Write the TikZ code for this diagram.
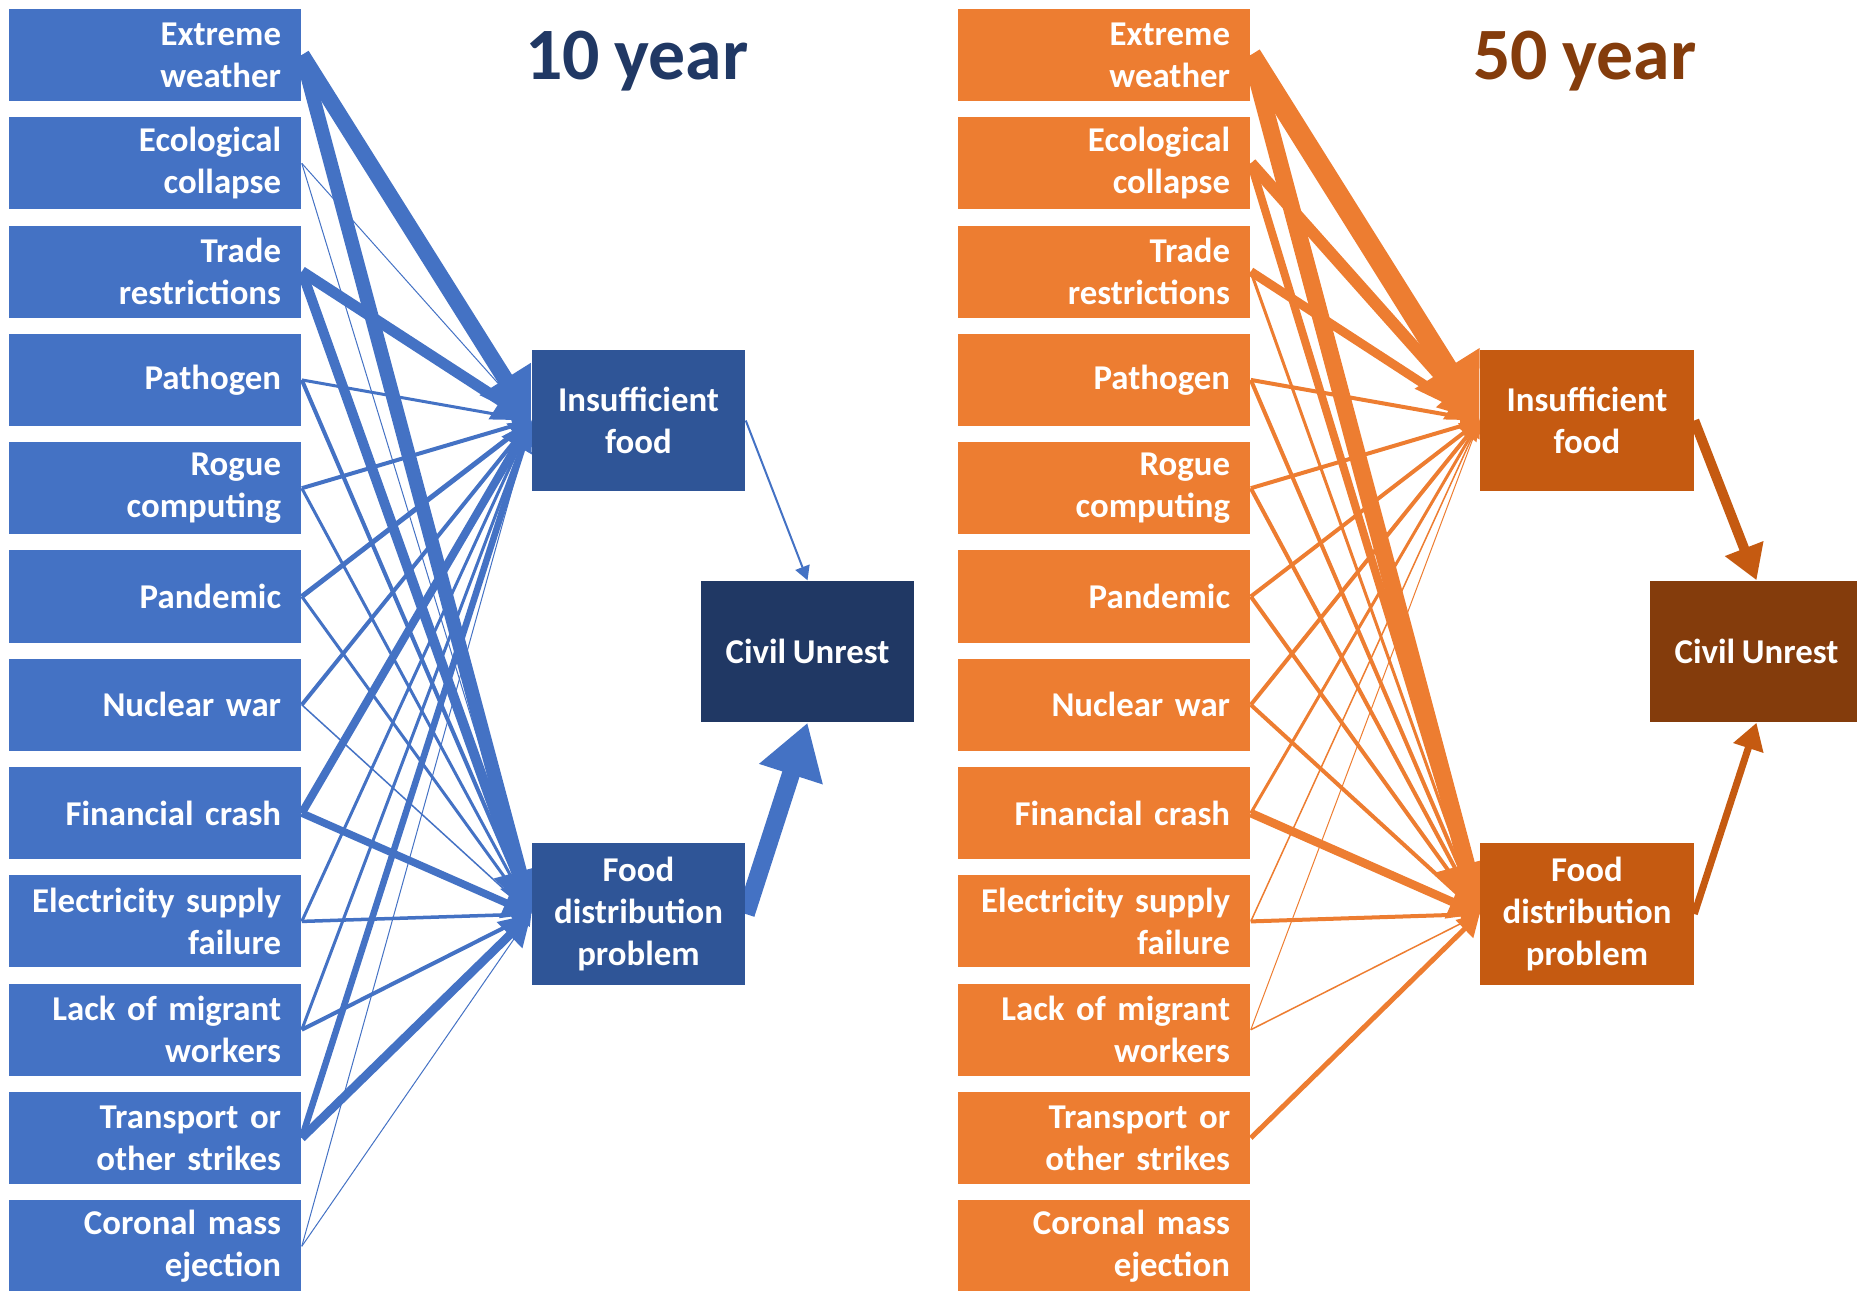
\documentclass[tikz,border=0pt]{standalone}
\usepackage{fontspec}
\setmainfont{Carlito}[WordSpace=0.85]
\usetikzlibrary{arrows.meta}
\usetikzlibrary{backgrounds}
\definecolor{blueBox}{HTML}{4472C4}
\definecolor{blueMid}{HTML}{2F5597}
\definecolor{blueDark}{HTML}{203864}
\definecolor{orangeBox}{HTML}{ED7D31}
\definecolor{orangeMid}{HTML}{C55A11}
\definecolor{orangeDark}{HTML}{843C0C}
\tikzset{
  cause/.style={fill=#1, text=white, font=\bfseries\fontsize{9.9}{11.9}\selectfont,
    minimum height=0.92cm, text width=2.52cm, inner xsep=0.2cm, inner ysep=0pt, align=right},
  effect/.style={fill=#1, text=white, font=\bfseries\fontsize{9.9}{11.9}\selectfont,
    minimum width=2.13cm, minimum height=1.41cm, inner sep=0pt, align=center},
  heading/.style={text=#1, font=\bfseries\fontsize{21}{25}\selectfont},
  causeline/.style={draw=#1, -{Triangle[length=0.09cm 2.5, width=0.09cm 3]}},
}

\begin{document}
\begin{tikzpicture}[x=0.01cm,y=-0.01cm]
\clip (0,0) rectangle (1857,1290);
% 10 year
\node[heading=blueDark] (tenTitle) at (637,61) {10 year};
\node[cause=blueBox] (ten1) at (155,55) {Extreme\\weather};
\node[cause=blueBox] (ten2) at (155,163.3) {Ecological\\collapse};
\node[cause=blueBox] (ten3) at (155,271.6) {Trade\\restrictions};
\node[cause=blueBox] (ten4) at (155,379.9) {Pathogen};
\node[cause=blueBox] (ten5) at (155,488.2) {Rogue\\computing};
\node[cause=blueBox] (ten6) at (155,596.5) {Pandemic};
\node[cause=blueBox] (ten7) at (155,704.8) {Nuclear war};
\node[cause=blueBox] (ten8) at (155,813.1) {Financial crash};
\node[cause=blueBox] (ten9) at (155,921.4) {Electricity supply\\failure};
\node[cause=blueBox] (ten10) at (155,1029.7) {Lack of migrant\\workers};
\node[cause=blueBox] (ten11) at (155,1138) {Transport or\\other strikes};
\node[cause=blueBox] (ten12) at (155,1246.3) {Coronal mass\\ejection};
\node[effect=blueMid] (tenFood) at (638.5,420.5) {Insufficient\\food};
\node[effect=blueMid] (tenDist) at (638.5,914) {Food\\distribution\\problem};
\node[effect=blueDark] (tenUnrest) at (807.5,651.5) {Civil Unrest};

% 50 year
\node[heading=orangeDark] (fiftyTitle) at (1585,61) {50 year};
\node[cause=orangeBox] (fifty1) at (1104,55) {Extreme\\weather};
\node[cause=orangeBox] (fifty2) at (1104,163.3) {Ecological\\collapse};
\node[cause=orangeBox] (fifty3) at (1104,271.6) {Trade\\restrictions};
\node[cause=orangeBox] (fifty4) at (1104,379.9) {Pathogen};
\node[cause=orangeBox] (fifty5) at (1104,488.2) {Rogue\\computing};
\node[cause=orangeBox] (fifty6) at (1104,596.5) {Pandemic};
\node[cause=orangeBox] (fifty7) at (1104,704.8) {Nuclear war};
\node[cause=orangeBox] (fifty8) at (1104,813.1) {Financial crash};
\node[cause=orangeBox] (fifty9) at (1104,921.4) {Electricity supply\\failure};
\node[cause=orangeBox] (fifty10) at (1104,1029.7) {Lack of migrant\\workers};
\node[cause=orangeBox] (fifty11) at (1104,1138) {Transport or\\other strikes};
\node[cause=orangeBox] (fifty12) at (1104,1246.3) {Coronal mass\\ejection};
\node[effect=orangeMid] (fiftyFood) at (1587,420.5) {Insufficient\\food};
\node[effect=orangeMid] (fiftyDist) at (1587,914) {Food\\distribution\\problem};
\node[effect=orangeDark] (fiftyUnrest) at (1756.5,651.5) {Civil Unrest};

\begin{scope}[on background layer]
% 10 year links, width = weight
\draw[causeline=blueBox, line width=0.16cm] (ten1.east) -- (tenFood.west);
\draw[causeline=blueBox, line width=0.14cm] (ten1.east) -- (tenDist.west);
\draw[causeline=blueBox, line width=0.01cm] (ten2.east) -- (tenFood.west);
\draw[causeline=blueBox, line width=0.01cm] (ten2.east) -- (tenDist.west);
\draw[causeline=blueBox, line width=0.11cm] (ten3.east) -- (tenFood.west);
\draw[causeline=blueBox, line width=0.10cm] (ten3.east) -- (tenDist.west);
\draw[causeline=blueBox, line width=0.03cm] (ten4.east) -- (tenFood.west);
\draw[causeline=blueBox, line width=0.04cm] (ten4.east) -- (tenDist.west);
\draw[causeline=blueBox, line width=0.04cm] (ten5.east) -- (tenFood.west);
\draw[causeline=blueBox, line width=0.03cm] (ten5.east) -- (tenDist.west);
\draw[causeline=blueBox, line width=0.05cm] (ten6.east) -- (tenFood.west);
\draw[causeline=blueBox, line width=0.03cm] (ten6.east) -- (tenDist.west);
\draw[causeline=blueBox, line width=0.04cm] (ten7.east) -- (tenFood.west);
\draw[causeline=blueBox, line width=0.015cm] (ten7.east) -- (tenDist.west);
\draw[causeline=blueBox, line width=0.08cm] (ten8.east) -- (tenFood.west);
\draw[causeline=blueBox, line width=0.075cm] (ten8.east) -- (tenDist.west);
\draw[causeline=blueBox, line width=0.03cm] (ten9.east) -- (tenFood.west);
\draw[causeline=blueBox, line width=0.035cm] (ten9.east) -- (tenDist.west);
\draw[causeline=blueBox, line width=0.03cm] (ten10.east) -- (tenFood.west);
\draw[causeline=blueBox, line width=0.04cm] (ten10.east) -- (tenDist.west);
\draw[causeline=blueBox, line width=0.065cm] (ten11.east) -- (tenFood.west);
\draw[causeline=blueBox, line width=0.085cm] (ten11.east) -- (tenDist.west);
\draw[causeline=blueBox, line width=0.01cm] (ten12.east) -- (tenFood.west);
\draw[causeline=blueBox, line width=0.01cm] (ten12.east) -- (tenDist.west);
\draw[causeline=blueBox, line width=0.02cm] (tenFood.east) -- (tenUnrest.north);
\draw[causeline=blueBox, line width=0.18cm] (tenDist.east) -- (tenUnrest.south);

% 50 year links
\draw[causeline=orangeBox, line width=0.21cm] (fifty1.east) -- (fiftyFood.west);
\draw[causeline=orangeBox, line width=0.17cm] (fifty1.east) -- (fiftyDist.west);
\draw[causeline=orangeBox, line width=0.12cm] (fifty2.east) -- (fiftyFood.west);
\draw[causeline=orangeBox, line width=0.08cm] (fifty2.east) -- (fiftyDist.west);
\draw[causeline=orangeBox, line width=0.09cm] (fifty3.east) -- (fiftyFood.west);
\draw[causeline=orangeBox, line width=0.03cm] (fifty3.east) -- (fiftyDist.west);
\draw[causeline=orangeBox, line width=0.04cm] (fifty4.east) -- (fiftyFood.west);
\draw[causeline=orangeBox, line width=0.04cm] (fifty4.east) -- (fiftyDist.west);
\draw[causeline=orangeBox, line width=0.04cm] (fifty5.east) -- (fiftyFood.west);
\draw[causeline=orangeBox, line width=0.04cm] (fifty5.east) -- (fiftyDist.west);
\draw[causeline=orangeBox, line width=0.04cm] (fifty6.east) -- (fiftyFood.west);
\draw[causeline=orangeBox, line width=0.04cm] (fifty6.east) -- (fiftyDist.west);
\draw[causeline=orangeBox, line width=0.04cm] (fifty7.east) -- (fiftyFood.west);
\draw[causeline=orangeBox, line width=0.04cm] (fifty7.east) -- (fiftyDist.west);
\draw[causeline=orangeBox, line width=0.03cm] (fifty8.east) -- (fiftyFood.west);
\draw[causeline=orangeBox, line width=0.085cm] (fifty8.east) -- (fiftyDist.west);
\draw[causeline=orangeBox, line width=0.015cm] (fifty9.east) -- (fiftyFood.west);
\draw[causeline=orangeBox, line width=0.04cm] (fifty9.east) -- (fiftyDist.west);
\draw[causeline=orangeBox, line width=0.01cm] (fifty10.east) -- (fiftyFood.west);
\draw[causeline=orangeBox, line width=0.015cm] (fifty10.east) -- (fiftyDist.west);
\draw[causeline=orangeBox, line width=0.05cm] (fifty11.east) -- (fiftyDist.west);
\draw[causeline=orangeMid, line width=0.10cm] (fiftyFood.east) -- (fiftyUnrest.north);
\draw[causeline=orangeMid, line width=0.07cm] (fiftyDist.east) -- (fiftyUnrest.south);
\end{scope}
\end{tikzpicture}
\end{document}
